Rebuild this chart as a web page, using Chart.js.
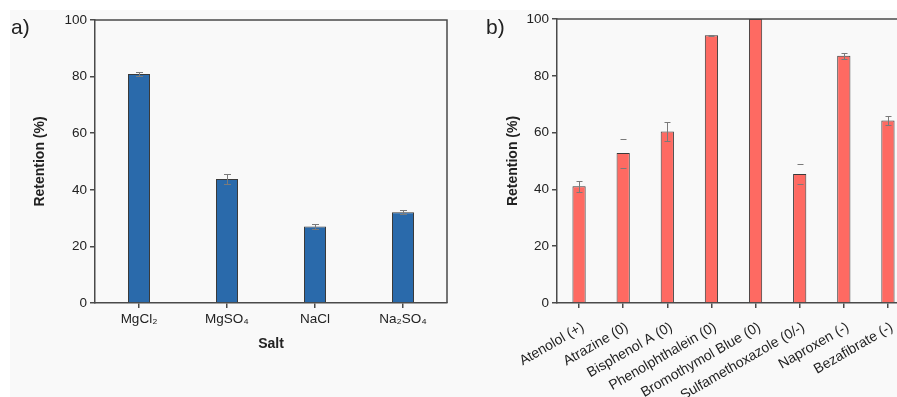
<!DOCTYPE html>
<html>
<head>
<meta charset="utf-8">
<script src="https://cdn.jsdelivr.net/npm/chart.js@4.4.1/dist/chart.umd.min.js"></script>
<style>
  html, body { margin: 0; padding: 0; background: #ffffff; width: 897px; height: 397px; overflow: hidden; position: relative; }
  #bg { position: absolute; left: 10px; top: 10px; width: 887px; height: 387px; background: #f9f9f9; }
  .panel { position: absolute; top: 0; }
  .lbl { position: absolute; font-family: "Liberation Sans", Arial, sans-serif; font-size: 21px; line-height: 21px; color: #222; }
</style>
</head>
<body>
<div id="bg"></div>
<canvas id="c1" class="panel" width="450" height="397" style="left:0px"></canvas>
<canvas id="c2" class="panel" width="460" height="397" style="left:450px"></canvas>
<div class="lbl" style="left:11px; top:16px;">a)</div>
<div class="lbl" style="left:486px; top:16px;">b)</div>
<script>
// ---- Data ----
const saltLabels = ['MgCl\u2082', 'MgSO\u2084', 'NaCl', 'Na\u2082SO\u2084'];
const saltRetention = [80.9, 43.8, 27.0, 32.1];
const saltError = [0.7, 1.7, 1.0, 0.6];

const compoundLabels = ['Atenolol (+)', 'Atrazine (0)', 'Bisphenol A (0)', 'Phenolphthalein (0)',
  'Bromothymol Blue (0)', 'Sulfamethoxazole (0/-)', 'Naproxen (-)', 'Bezafibrate (-)'];
const compoundRetention = [41.1, 52.8, 60.4, 94.3, 100, 45.4, 87.1, 64.3];
const compoundError = [2.0, 5.1, 3.4, 0.2, 0, 3.6, 1.1, 1.7];

const yTicks = [0, 20, 40, 60, 80, 100];

// ---- Styling ----
const FONT = '"Liberation Sans", Arial, sans-serif';
const AXIS = '#4a4a4a';
const TXT = '#222222';

const errorBarPlugin = {
  id: 'errorBars',
  afterDatasetsDraw(chart, args, opts) {
    const ctx = chart.ctx;
    const y = chart.scales.y;
    const meta = chart.getDatasetMeta(0);
    const vals = chart.data.datasets[0].data;
    const errs = opts.errors || [];
    ctx.save();
    ctx.strokeStyle = opts.color || '#777';
    ctx.lineWidth = 1;
    meta.data.forEach((bar, i) => {
      const e = errs[i];
      if (!e) return;
      const x = Math.round(bar.x) + 0.5;
      const yt = Math.round(y.getPixelForValue(vals[i] + e)) + 0.5;
      const yb = Math.round(y.getPixelForValue(vals[i] - e)) + 0.5;
      const w = opts.cap || 3;
      ctx.beginPath();
      if (!(opts.capsOnly || []).includes(i)) {
        ctx.moveTo(x, yt); ctx.lineTo(x, yb);
      }
      ctx.moveTo(x - w, yt); ctx.lineTo(x + w, yt);
      ctx.moveTo(x - w, yb); ctx.lineTo(x + w, yb);
      ctx.stroke();
    });
    ctx.restore();
  }
};

const frameBox = {
  id: 'frameBox',
  afterDraw(chart) {
    const a = chart.chartArea;
    const ctx = chart.ctx;
    ctx.save();
    ctx.strokeStyle = AXIS;
    ctx.lineWidth = 1.5;
    ctx.beginPath();
    ctx.moveTo(a.left, a.top);
    ctx.lineTo(a.right, a.top);
    ctx.lineTo(a.right, a.bottom);
    ctx.stroke();
    ctx.restore();
  }
};

function makeChart(id, labels, values, errors, cfg) {
  return new Chart(document.getElementById(id), {
    type: 'bar',
    data: {
      labels: labels,
      datasets: [{
        data: values,
        backgroundColor: cfg.color,
        borderColor: '#3a3a3a',
        borderWidth: 1,
        borderSkipped: 'bottom',
        categoryPercentage: 1,
        barPercentage: cfg.barPct
      }]
    },
    options: {
      responsive: false,
      animation: false,
      devicePixelRatio: 1,
      layout: { padding: { left: 0, right: cfg.padRight, top: cfg.padTop, bottom: 0 } },
      plugins: {
        legend: { display: false },
        tooltip: { enabled: false },
        errorBars: { errors: errors, cap: cfg.cap, color: '#7a7a7a', capsOnly: cfg.capsOnly || [] }
      },
      scales: {
        x: {
          offset: true,
          grid: { display: true, drawOnChartArea: false, drawTicks: true, tickLength: 5, color: AXIS, lineWidth: 1.5, offset: false },
          border: { display: true, color: AXIS, width: 1.5 },
          ticks: {
            color: TXT, font: { family: FONT, size: cfg.xFont }, padding: cfg.xPad,
            labelOffset: cfg.xOffset,
            autoSkip: false, maxRotation: cfg.rot, minRotation: cfg.rot
          },
          title: cfg.xTitle ? {
            display: true, text: cfg.xTitle, color: TXT,
            font: { family: FONT, size: 14, weight: 'bold' }, padding: { top: 0, bottom: 44 }
          } : { display: false },
          afterFit(s) { s.height = 94; }
        },
        y: {
          min: 0, max: 100,
          afterBuildTicks(s) { s.ticks = yTicks.map(v => ({ value: v })); },
          grid: { display: true, drawOnChartArea: false, drawTicks: true, tickLength: 5, color: AXIS, lineWidth: 1.5 },
          border: { display: true, color: AXIS, width: 1.5 },
          ticks: { color: TXT, font: { family: FONT, size: 13.5 }, padding: 3 },
          title: {
            display: true, text: 'Retention (%)', color: TXT,
            font: { family: FONT, size: 14, weight: 'bold' }, padding: { top: cfg.yTitlePad, bottom: 0 }
          },
          afterFit(s) { s.width = cfg.yWidth; }
        }
      }
    },
    plugins: [errorBarPlugin, frameBox]
  });
}

makeChart('c1', saltLabels, saltRetention, saltError, {
  color: '#2a6aab', barPct: 0.25, padRight: 3, padTop: 20, yWidth: 95,
  yTitlePad: 31.6, xTitle: 'Salt', rot: 0, cap: 3.5, xFont: 13.5, xPad: 3, xOffset: 0
});

makeChart('c2', compoundLabels, compoundRetention, compoundError, {
  color: '#fe6a62', barPct: 0.3, padRight: 0, padTop: 19, yWidth: 107,
  yTitlePad: 54.6, xTitle: null, rot: 30, cap: 3, capsOnly: [1, 5],
  xFont: 14, xPad: 11, xOffset: 4
});
</script>
</body>
</html>
